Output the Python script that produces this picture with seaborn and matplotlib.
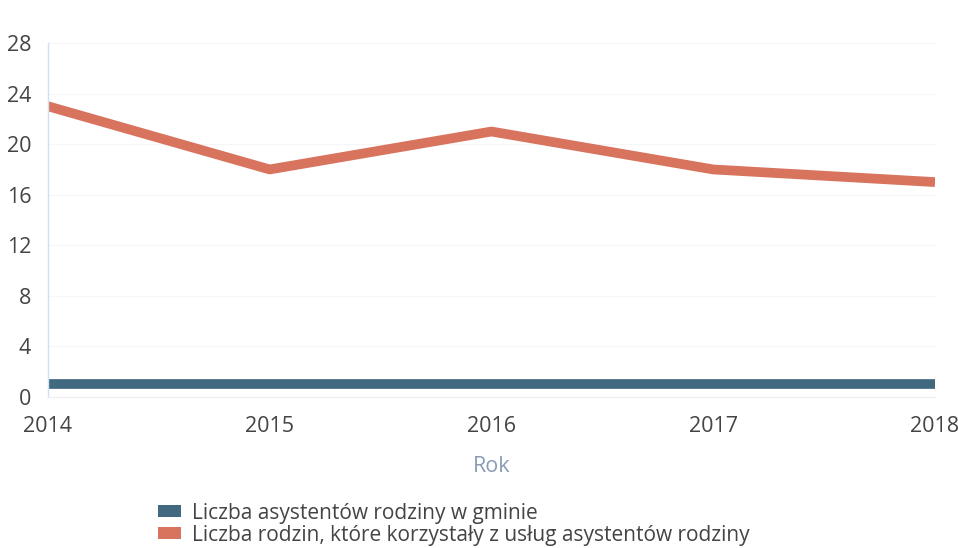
import pandas as pd
import seaborn as sns
import matplotlib.pyplot as plt
from matplotlib.patches import Patch

years = [2014, 2015, 2016, 2017, 2018]
assistants = [1, 1, 1, 1, 1]
families = [23, 18, 21, 18, 17]
series_names = ['Liczba asystentów rodziny w gminie',
                'Liczba rodzin, które korzystały z usług asystentów rodziny']
colors = ['#41697f', '#d8735d']
y_ticks = [0, 4, 8, 12, 16, 20, 24, 28]

df = pd.DataFrame({
    'Rok': years * 2,
    'Wartosc': assistants + families,
    'Seria': [series_names[0]] * len(years) + [series_names[1]] * len(years),
})

sns.set_style('white')
plt.rcParams['font.family'] = ['Open Sans', 'DejaVu Sans']

fig = plt.figure(figsize=(9.58, 5.48), dpi=100)
ax = fig.add_axes([0.050, 0.2755, 0.926, 0.646])
sns.lineplot(data=df, x='Rok', y='Wartosc', hue='Seria', palette=colors,
             linewidth=7, ax=ax, legend=False, solid_capstyle='butt')

ax.set_xlim(2014, 2018)
ax.set_ylim(0, 28)
ax.set_xticks(years)
ax.set_xticklabels([str(y) for y in years])
ax.set_yticks(y_ticks)
ax.tick_params(axis='both', length=0, labelsize=15.5, colors='#444444')
ax.tick_params(axis='x', pad=14)
ax.tick_params(axis='y', pad=12)
ax.grid(axis='y', color='#f6f6f6', linewidth=0.8)
ax.set_ylabel('')
ax.set_xlabel('Rok', fontsize=15.5, color='#8a9bb8', labelpad=13)
for side in ['top', 'right']:
    ax.spines[side].set_visible(False)
ax.spines['left'].set_color('#cfe0f3')
ax.spines['left'].set_linewidth(1)
ax.spines['bottom'].set_color('#eeeeee')
ax.spines['bottom'].set_linewidth(0.8)

handles = [Patch(facecolor=c, edgecolor='none') for c in colors]
fig.legend(handles, series_names, loc='lower left', bbox_to_anchor=(0.165, 0.004),
           frameon=False, fontsize=15, handlelength=1.1, handleheight=0.5,
           handletextpad=0.55, labelspacing=0.05, borderaxespad=0, borderpad=0,
           labelcolor='#444444')

fig.savefig('out.png', dpi=100)
